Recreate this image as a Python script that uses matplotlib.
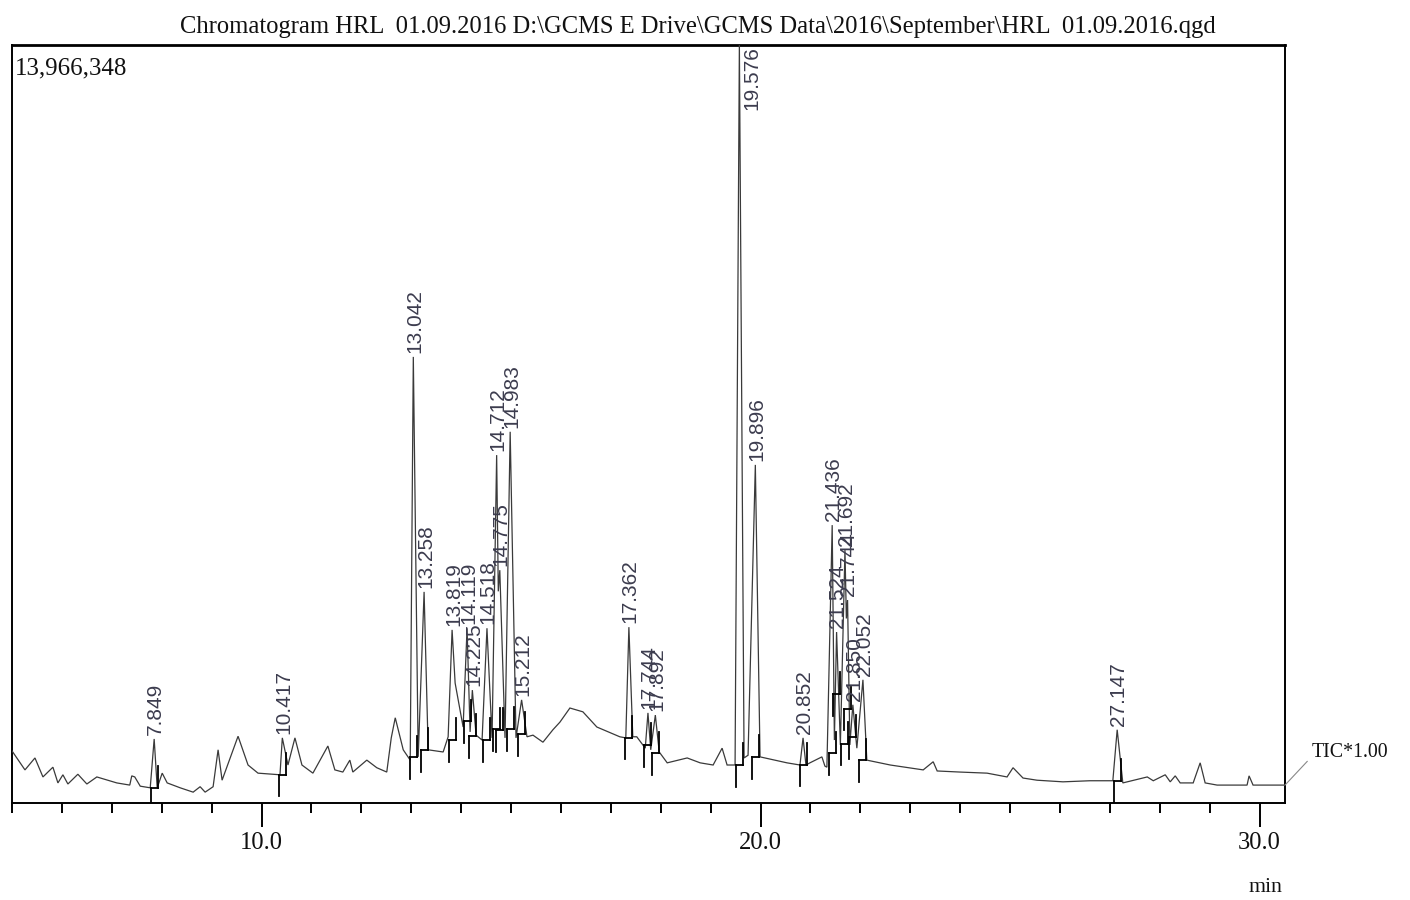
import numpy as np
import matplotlib
matplotlib.use("Agg")
import matplotlib.pyplot as plt
from matplotlib.ticker import FixedLocator, MultipleLocator

# ---------------- data ----------------
title_text = "Chromatogram HRL  01.09.2016 D:\\GCMS E Drive\\GCMS Data\\2016\\September\\HRL  01.09.2016.qgd"
full_scale = 13966348          # counts at the top of the y axis
trace_label = "TIC*1.00"
x_unit = "min"

# TIC trace: retention time (min) and intensity (millions of counts)
trace_time = [
    5.00, 5.26, 5.46, 5.62, 5.82, 5.92, 6.02, 6.12, 6.32, 6.50, 6.70, 7.10, 7.36, 7.40, 7.46,
    7.57, 7.77, 7.849, 7.91, 8.01, 8.11, 8.37, 8.63, 8.77, 8.87, 9.03, 9.13, 9.21, 9.53, 9.73,
    9.93, 10.37, 10.417, 10.53, 10.67, 10.81, 11.03, 11.33, 11.47, 11.63, 11.77, 11.83, 12.11,
    12.31, 12.51, 12.60, 12.68, 12.84, 12.98, 13.042, 13.14, 13.258, 13.34, 13.64, 13.74,
    13.819, 13.88, 14.04, 14.119, 14.18, 14.225, 14.30, 14.42, 14.518, 14.62, 14.712, 14.745,
    14.775, 14.88, 14.983, 15.10, 15.212, 15.32, 15.44, 15.64, 15.84, 15.98, 16.18, 16.44,
    16.72, 17.18, 17.30, 17.362, 17.44, 17.52, 17.69, 17.744, 17.80, 17.892, 17.97, 18.13,
    18.53, 18.79, 19.05, 19.23, 19.33, 19.49, 19.576, 19.67, 19.75, 19.896, 19.99, 20.53,
    20.79, 20.852, 20.91, 20.99, 21.23, 21.29, 21.33, 21.436, 21.48, 21.524, 21.60, 21.692,
    21.72, 21.744, 21.79, 21.850, 21.93, 22.052, 22.13, 22.60, 23.26, 23.46, 23.54, 24.00,
    24.54, 24.94, 25.06, 25.26, 25.54, 26.06, 26.60, 27.06, 27.147, 27.26, 27.75, 27.87,
    28.11, 28.21, 28.31, 28.41, 28.67, 28.81, 28.91, 29.15, 29.75, 29.79, 29.87, 30.51,
]
trace_intensity = [
    0.96, 0.61, 0.83, 0.48, 0.66, 0.37, 0.52, 0.35, 0.53, 0.35, 0.48, 0.37, 0.33, 0.50, 0.48,
    0.31, 0.28, 1.18, 0.28, 0.55, 0.37, 0.28, 0.20, 0.30, 0.20, 0.30, 0.98, 0.42, 1.23, 0.70,
    0.55, 0.52, 1.20, 0.70, 1.20, 0.70, 0.55, 1.05, 0.61, 0.57, 0.79, 0.57, 0.79,
    0.65, 0.57, 1.20, 1.57, 0.98, 0.79, 8.22, 0.85, 3.89, 0.98, 0.94, 1.22,
    3.19, 2.21, 1.40, 3.22, 1.31, 2.08, 1.25, 1.16, 3.22, 1.20, 6.41, 3.90,
    4.29, 1.20, 6.84, 1.20, 1.90, 1.22, 1.25, 1.12, 1.35, 1.49, 1.75, 1.68,
    1.40, 1.22, 1.20, 3.24, 1.22, 1.22, 1.01, 1.66, 0.98, 1.62, 0.94, 0.74,
    0.83, 0.74, 0.70, 1.01, 0.70, 0.70, 13.966, 0.83, 0.88, 6.23, 0.85, 0.74,
    0.70, 1.20, 0.70, 0.74, 0.85, 0.68, 0.66, 5.12, 1.16, 3.15, 1.07, 4.66,
    3.40, 3.74, 1.07, 1.81, 1.01, 2.27, 0.79, 0.70, 0.61, 0.76, 0.59, 0.57,
    0.55, 0.48, 0.65, 0.46, 0.42, 0.39, 0.41, 0.41, 1.35, 0.37, 0.48, 0.41,
    0.52, 0.39, 0.50, 0.37, 0.37, 0.74, 0.37, 0.33, 0.33, 0.50, 0.33, 0.33,
]

# labelled (integrated) peaks
peak_rt = [7.849, 10.417, 13.042, 13.258, 13.819, 14.119, 14.225, 14.518, 14.712, 14.775,
           14.983, 15.212, 17.362, 17.744, 17.892, 19.576, 19.896, 20.852, 21.436, 21.524,
           21.692, 21.744, 21.850, 22.052, 27.147]
peak_label = ["7.849", "10.417", "13.042", "13.258", "13.819", "14.119", "14.225", "14.518",
              "14.712", "14.775", "14.983", "15.212", "17.362", "17.744", "17.892", "19.576",
              "19.896", "20.852", "21.436", "21.524", "21.692", "21.744", "21.850", "22.052",
              "27.147"]
peak_height = [1.18, 1.20, 8.22, 3.89, 3.19, 3.22, 2.08, 3.22, 6.41, 4.29,
               6.84, 1.90, 3.24, 1.66, 1.62, 13.966, 6.23, 1.20, 5.12, 3.15,
               4.66, 3.74, 1.81, 2.27, 1.35]

x_major = [10.0, 20.0, 30.0]
x_major_labels = ["10.0", "20.0", "30.0"]

# ---------------- figure ----------------
W, H = 1410, 900
fig = plt.figure(figsize=(W / 100, H / 100), dpi=100)
ax_l, ax_r, ax_t, ax_b = 12, 1285, 45, 803
ax = fig.add_axes([ax_l / W, 1 - ax_b / H, (ax_r - ax_l) / W, (ax_b - ax_t) / H])

t = np.array(trace_time)
y = np.array(trace_intensity) * 1e6
ax.plot(t, y, color="#3a3a3a", lw=0.9, solid_joinstyle="miter", zorder=3)

ax.set_xlim(5.0, 30.51)
ax.set_ylim(0, full_scale)
ax.set_yticks([])
ax.xaxis.set_major_locator(FixedLocator(x_major))
ax.set_xticklabels(x_major_labels)
ax.xaxis.set_minor_locator(MultipleLocator(1.0))
ax.tick_params(which="major", direction="out", length=17, width=1.4, pad=4,
               labelsize=17, labelcolor="#111111")
ax.tick_params(which="minor", direction="out", length=7, width=1.4)
for lab in ax.get_xticklabels():
    lab.set_family("Liberation Serif")
for name, sp in ax.spines.items():
    sp.set_linewidth(1.4)
ax.spines["top"].set_linewidth(2.0)

# integration markers
seg = 0.4e6
for rt in peak_rt:
    s, e = rt - 0.07, rt + 0.07
    base = min(np.interp(rt - 0.1, t, y), np.interp(rt + 0.1, t, y))
    ax.plot([s, e], [base, base], color="black", lw=1.3, zorder=4)
    ax.plot([s, s], [base - seg, base], color="black", lw=1.3, zorder=4)
    ax.plot([e, e], [base, base + seg], color="black", lw=1.3, zorder=4)

# peak labels
for rt, lab, h in zip(peak_rt, peak_label, peak_height):
    hv = h * 1e6
    if hv >= 0.99 * full_scale:
        ax.annotate(lab, xy=(rt, full_scale), xytext=(9, -1), textcoords="offset points",
                    rotation=90, ha="center", va="top", fontsize=15,
                    family="Liberation Sans", color="#3c3c4e", annotation_clip=False, zorder=5)
    else:
        ax.annotate(lab, xy=(rt, hv), xytext=(1, 3), textcoords="offset points",
                    rotation=90, ha="center", va="bottom", fontsize=15,
                    family="Liberation Sans", color="#3c3c4e", zorder=5)

# texts
title = fig.text(698 / W, 1 - 27 / H, title_text, ha="center", va="center",
                 family="Liberation Serif", fontsize=20, color="#111111")
scale_txt = ax.text(3 / (ax_r - ax_l), 1 - 12 / (ax_b - ax_t), f"{full_scale:,}",
                    transform=ax.transAxes, ha="left", va="top",
                    family="Liberation Serif", fontsize=18, color="#111111")
unit_txt = fig.text(1265 / W, 1 - 887 / H, x_unit, ha="center", va="center",
                    family="Liberation Serif", fontsize=18, color="#111111")
tic = ax.annotate(trace_label, xy=(30.51, trace_intensity[-1] * 1e6), xycoords="data",
                  xytext=(1312, H - 757), textcoords="figure pixels",
                  ha="left", va="baseline", family="Liberation Serif", fontsize=20,
                  color="#111111", annotation_clip=False,
                  arrowprops=dict(arrowstyle="-", color="#888888", lw=0.8,
                                  shrinkA=2, shrinkB=0, relpos=(0, 0.3)))

# fit the widths of the serif texts to the reference
fig.canvas.draw()
r = fig.canvas.get_renderer()
def fit(txt, target):
    w = txt.get_window_extent(r).width
    txt.set_fontsize(txt.get_fontsize() * target / w)
fit(title, 1037)
fit(scale_txt, 112)
fit(unit_txt, 34)
fit(tic, 96)
w10 = ax.get_xticklabels()[0].get_window_extent(r).width
ax.tick_params(which="major", labelsize=17 * 43 / w10)

fig.savefig("out.png", dpi=100)
